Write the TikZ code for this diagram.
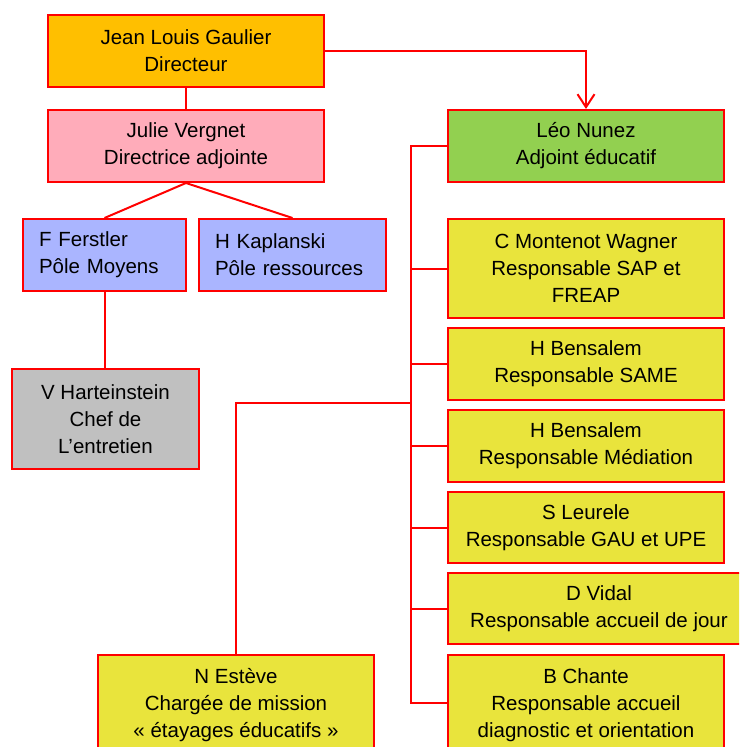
\documentclass[tikz,border=0pt]{standalone}
\usepackage{fontspec}
\setmainfont{Liberation Sans}
\usetikzlibrary{arrows.meta}
\definecolor{redline}{RGB}{255,0,0}
\definecolor{orangefill}{RGB}{255,191,0}
\definecolor{pinkfill}{RGB}{255,172,186}
\definecolor{bluefill}{RGB}{170,181,255}
\definecolor{grayfill}{RGB}{192,192,192}
\definecolor{greenfill}{RGB}{146,208,80}
\definecolor{yellowfill}{RGB}{233,228,60}
\tikzset{
  orgbox/.style={draw=redline, line width=2pt, inner sep=0pt, align=center,
    font=\fontsize{20.5}{27}\selectfont, text=black},
  leftbox/.style={orgbox, align=left, inner xsep=16pt, inner ysep=0pt},
  link/.style={draw=redline, line width=2pt},
}
\begin{document}
\begin{tikzpicture}[x=1pt,y=-1pt]
\useasboundingbox (0,0) rectangle (739,747);
\clip (0,0) rectangle (739,747);
\fill[white] (0,0) rectangle (739,747);

\node[orgbox, fill=orangefill, minimum width=276pt, minimum height=72pt] (dir) at (186,51) {Jean Louis Gaulier\\Directeur};
\node[orgbox, fill=pinkfill, minimum width=276pt, minimum height=72pt] (julie) at (186,146) {Julie Vergnet\\Directrice adjointe};
\node[leftbox, fill=bluefill, text width=131pt, minimum height=72pt] (ferst) at (104.5,255) {F Ferstler\\Pôle Moyens};
\node[leftbox, fill=bluefill, text width=155pt, minimum height=72pt] (kap) at (292.5,255) {H Kaplanski\\Pôle ressources};
\node[orgbox, fill=grayfill, minimum width=187pt, minimum height=100pt] (vh) at (105.5,419) {V Harteinstein\\Chef de\\L’entretien};

\node[orgbox, fill=greenfill, minimum width=276pt, minimum height=72pt] (leo) at (586,146) {Léo Nunez\\Adjoint éducatif};
\node[orgbox, fill=yellowfill, minimum width=276pt, minimum height=99pt] (cmw) at (586,268.5) {C Montenot Wagner\\Responsable SAP et\\FREAP};
\node[orgbox, fill=yellowfill, minimum width=276pt, minimum height=72pt] (hb1) at (586,364) {H Bensalem\\Responsable SAME};
\node[orgbox, fill=yellowfill, minimum width=276pt, minimum height=72pt] (hb2) at (586,446) {H Bensalem\\Responsable Médiation};
\node[orgbox, fill=yellowfill, minimum width=276pt, minimum height=71pt] (sl) at (586,527.5) {S Leurele\\Responsable GAU et UPE};
\node[orgbox, fill=yellowfill, minimum width=302pt, minimum height=71pt] (dv) at (599,608.5) {D Vidal\\Responsable accueil de jour};
\node[orgbox, fill=yellowfill, minimum width=276pt, minimum height=100pt] (bc) at (586,705) {B Chante\\Responsable accueil\\diagnostic et orientation};
\node[orgbox, fill=yellowfill, minimum width=276pt, minimum height=100pt] (ne) at (236,705) {N Estève\\Chargée de mission\\« étayages éducatifs »};

\coordinate (ttop) at (411,146);
\coordinate (tbot) at (411,703);
\coordinate (tne) at (411,403);
\coordinate (nebend) at (236,403);

\draw[link] (dir.south) -- (julie.north);
\draw[link] (julie.south) -- (ferst.north);
\draw[link] (julie.south) -- (kap.north);
\draw[link] (ferst.south) -- (ferst.south |- vh.north);
\draw[link, -{Straight Barb[length=13pt,width=17pt,line width=2pt]}] (dir.east) -| (leo.north);
\draw[link] (leo.west) -- (ttop) -- (tbot) -- (bc.west |- tbot);
\draw[link] (ttop |- cmw.west) -- (cmw.west);
\draw[link] (ttop |- hb1.west) -- (hb1.west);
\draw[link] (ttop |- hb2.west) -- (hb2.west);
\draw[link] (ttop |- sl.west) -- (sl.west);
\draw[link] (ttop |- dv.west) -- (dv.west);
\draw[link] (tne) -- (nebend) -- (nebend |- ne.north);
\end{tikzpicture}
\end{document}
